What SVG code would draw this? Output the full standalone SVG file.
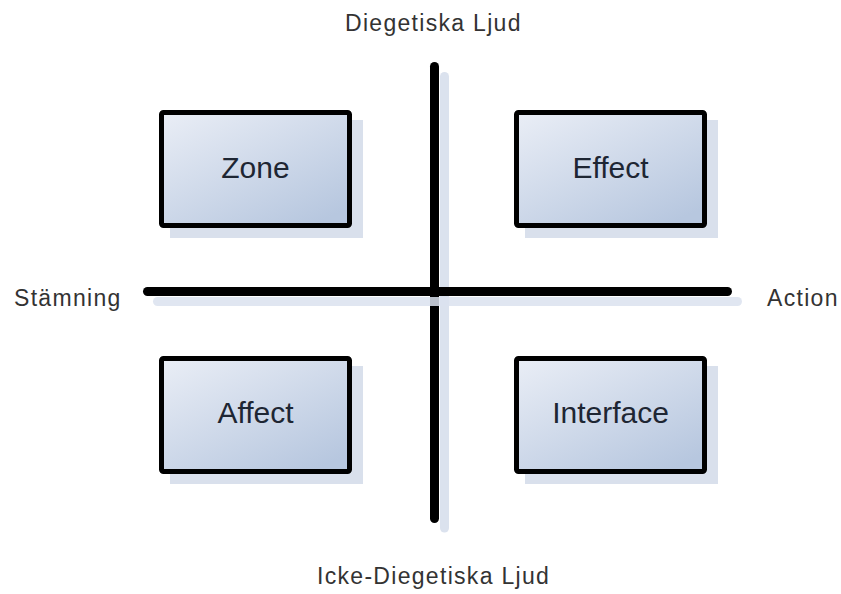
<svg xmlns="http://www.w3.org/2000/svg" width="841" height="594" viewBox="0 0 841 594">
<defs>
<linearGradient id="g" x1="0" y1="0" x2="0.8" y2="1">
<stop offset="0" stop-color="#eaeef6"/>
<stop offset="1" stop-color="#b7c7df"/>
</linearGradient>
</defs>
<style>
.sh{fill:#d9e0ec}
.box{fill:url(#g);stroke:#000;stroke-width:5}
.bt{font-family:"Liberation Sans",Arial,sans-serif;font-size:30px;fill:#1e2633;text-anchor:middle}
.lb{font-family:"Liberation Sans",Arial,sans-serif;font-size:23px;fill:#333;letter-spacing:1.3px}
.ax{stroke:#000;stroke-width:9;stroke-linecap:round;fill:none}
.axs{stroke:#dbe2ee;stroke-width:9;stroke-linecap:round;fill:none}
</style>
<rect width="841" height="594" fill="#fff"/>
<g id="connectors">
<line class="axs" x1="444.5" y1="76.5" x2="444.5" y2="528"/>
<line class="ax" x1="434.5" y1="66.5" x2="434.5" y2="518.5"/>
<line class="axs" x1="157.5" y1="301.5" x2="737.5" y2="301.5" opacity="0.85"/>
<line class="ax" x1="147.5" y1="291.5" x2="727.5" y2="291.5"/>
</g>
<g id="zone">
<rect class="sh" x="170" y="120" width="193" height="118"/>
<rect class="box" x="161.5" y="112.5" width="188" height="113" rx="2"/>
<text class="bt" x="255.5" y="178">Zone</text>
</g>
<g id="effect">
<rect class="sh" x="525" y="120" width="193" height="118"/>
<rect class="box" x="516.5" y="112.5" width="188" height="113" rx="2"/>
<text class="bt" x="610.5" y="178">Effect</text>
</g>
<g id="affect">
<rect class="sh" x="170" y="366" width="193" height="118"/>
<rect class="box" x="161.5" y="358.5" width="188" height="113" rx="2"/>
<text class="bt" x="255.5" y="423">Affect</text>
</g>
<g id="interface">
<rect class="sh" x="525" y="366" width="193" height="118"/>
<rect class="box" x="516.5" y="358.5" width="188" height="113" rx="2"/>
<text class="bt" x="610.5" y="423">Interface</text>
</g>
<g id="labels">
<text class="lb" x="345" y="31">Diegetiska Ljud</text>
<text class="lb" x="317" y="584">Icke-Diegetiska Ljud</text>
<text class="lb" x="14" y="306">Stämning</text>
<text class="lb" x="767" y="306">Action</text>
</g>
</svg>
